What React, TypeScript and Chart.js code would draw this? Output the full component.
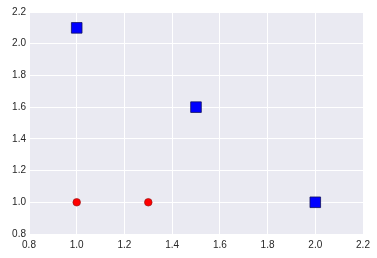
import React, { useEffect, useRef } from "react";
import { Chart, registerables } from "chart.js";

Chart.register(...registerables);

const squareX = [1.0, 1.5, 2.0];
const squareY = [2.1, 1.6, 1.0];
const circleX = [1.0, 1.3];
const circleY = [1.0, 1.0];

const xMin = 0.8;
const xMax = 2.2;
const yMin = 0.8;
const yMax = 2.2;
const tickStep = 0.2;

const bgPlugin = {
  id: "bgPlugin",
  beforeDraw(chart: any) {
    const { ctx, chartArea } = chart;
    ctx.save();
    ctx.fillStyle = "#EAEAF2";
    ctx.fillRect(chartArea.left, chartArea.top, chartArea.right - chartArea.left, chartArea.bottom - chartArea.top);
    ctx.restore();
  },
};

export default function App() {
  const ref = useRef<HTMLCanvasElement>(null);
  useEffect(() => {
    document.body.style.margin = "0";
    const chart = new Chart(ref.current!, {
      type: "scatter",
      data: {
        datasets: [
          {
            data: circleX.map((x, i) => ({ x, y: circleY[i] })),
            pointStyle: "circle",
            pointRadius: 3.8,
            backgroundColor: "#FF0000",
            borderColor: "#8B1010",
            borderWidth: 0.6,
          },
          {
            data: squareX.map((x, i) => ({ x, y: squareY[i] })),
            pointStyle: "rect",
            pointRadius: 7.5,
            backgroundColor: "#0000FF",
            borderColor: "#101060",
            borderWidth: 0.8,
          },
        ],
      },
      options: {
        animation: false,
        responsive: false,
        layout: { padding: { left: 0, right: 14, top: 12, bottom: 0 } },
        plugins: { legend: { display: false }, tooltip: { enabled: false } },
        scales: {
          x: {
            type: "linear",
            min: xMin,
            max: xMax,
            afterFit: (s: any) => { s.height = 24; },
            ticks: {
              stepSize: tickStep,
              padding: 5,
              color: "#262626",
              font: { family: "Liberation Sans, Arial", size: 10 },
              callback: (v: any) => Number(v).toFixed(1),
            },
            grid: { color: "#FFFFFF", lineWidth: 1, drawTicks: false },
            border: { display: false },
          },
          y: {
            type: "linear",
            min: yMin,
            max: yMax,
            afterFit: (s: any) => { s.width = 29; },
            ticks: {
              stepSize: tickStep,
              padding: 3,
              color: "#262626",
              font: { family: "Liberation Sans, Arial", size: 10 },
              callback: (v: any) => Number(v).toFixed(1),
            },
            grid: { color: "#FFFFFF", lineWidth: 1, drawTicks: false },
            border: { display: false },
          },
        },
      },
      plugins: [bgPlugin],
    });
    return () => chart.destroy();
  }, []);
  return <canvas ref={ref} width={377} height={258} style={{ display: "block" }} />;
}
